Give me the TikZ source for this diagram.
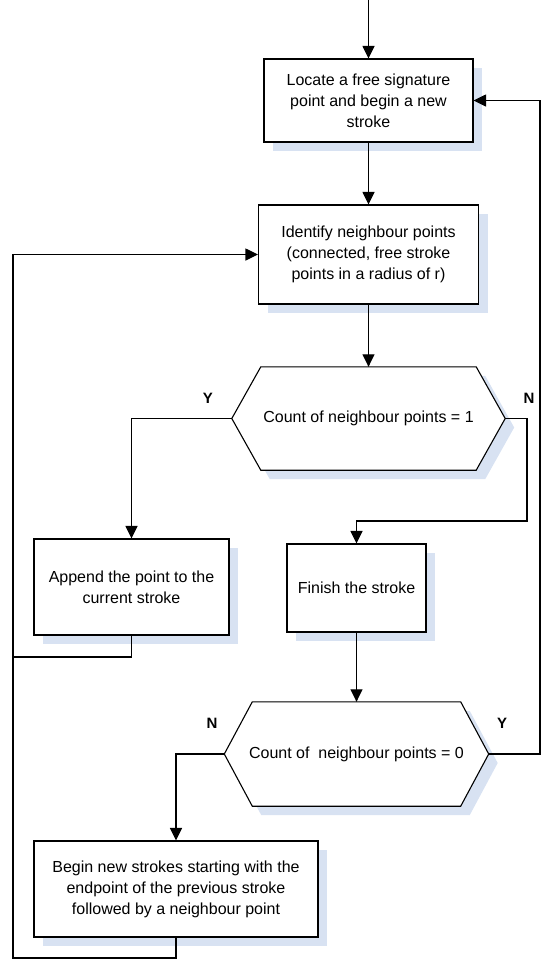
\documentclass[tikz,border=0pt]{standalone}
\usepackage{fontspec}
\setmainfont{Liberation Sans}
\usepackage{tikz}
\usetikzlibrary{arrows.meta,shadows,backgrounds}
\definecolor{shadowblue}{RGB}{216,226,242}
\tikzstyle{block}=[draw=black,line width=1.1pt,fill=white,align=center,inner sep=0pt,
  drop shadow={shadow xshift=9pt,shadow yshift=-9pt,fill=shadowblue,opacity=1}]
\tikzstyle{decision}=[align=center,inner sep=0pt]
\tikzstyle{yn}=[font=\fontsize{15}{18}\selectfont\bfseries]
\tikzstyle{conn}=[draw=black,line width=1.1pt]
\tikzstyle{flow}=[conn,-{Triangle[length=12.5pt,width=12pt]}]

\begin{document}
\begin{tikzpicture}[x=1pt,y=-1pt,every node/.style={font=\fontsize{16}{21}\selectfont}]
  \useasboundingbox (0,0) rectangle (541,959);
  % main column
  \node[block,minimum width=209pt,minimum height=83pt] (locate) at (368.5,100.5)
    {Locate a free signature\\point and begin a new\\stroke};
  \node[block,minimum width=220pt,minimum height=99pt] (identify) at (368.5,254.5)
    {Identify neighbour points\\(connected, free stroke\\points in a radius of r)};
  \node[decision,minimum width=273pt,minimum height=103pt] (count1) at (368.5,418.5)
    {Count of neighbour points = 1};
  \node[block,minimum width=195pt,minimum height=96pt] (append) at (131.5,587)
    {Append the point to the\\current stroke};
  \node[block,minimum width=139pt,minimum height=88pt] (finish) at (356.5,588)
    {Finish the stroke};
  \node[decision,minimum width=264pt,minimum height=104pt] (count0) at (356.5,754)
    {Count of\ \ neighbour points = 0};
  \node[block,minimum width=284pt,minimum height=96pt] (begin) at (176,889)
    {Begin new strokes starting with the\\endpoint of the previous stroke\\followed by a neighbour point};
  % hexagons behind the decision texts
  \begin{scope}[on background layer]
    \foreach \d/\c in {count1/29pt,count0/28pt}{
      \path[fill=shadowblue,transform canvas={xshift=9pt,yshift=-9pt}]
        ([xshift=\c]\d.north west) -- ([xshift=-\c]\d.north east) -- (\d.east)
        -- ([xshift=-\c]\d.south east) -- ([xshift=\c]\d.south west) -- (\d.west) -- cycle;
      \draw[conn,fill=white]
        ([xshift=\c]\d.north west) -- ([xshift=-\c]\d.north east) -- (\d.east)
        -- ([xshift=-\c]\d.south east) -- ([xshift=\c]\d.south west) -- (\d.west) -- cycle;
    }
  \end{scope}
  % branch labels
  \node[yn] (y1) at (208,398) {Y};
  \node[yn] (n1) at (529,398) {N};
  \node[yn] (n0) at (212,723) {N};
  \node[yn] (y0) at (502,723) {Y};
  % connectors
  \coordinate (entry) at (368.5,0);
  \coordinate (nturn) at (527,521);
  \coordinate (aloop) at (13,657);
  \coordinate (yturn) at (540,754);
  \coordinate (bloop) at (13,958);
  \draw[flow] (entry) -- (locate.north);
  \draw[flow] (locate) -- (identify);
  \draw[flow] (identify) -- (count1);
  \draw[flow] (count1.west) -| (append.north);
  \draw[flow] (count1.east) -| (nturn) -| (finish.north);
  \draw[conn] (append.south) |- (aloop);
  \draw[flow] (finish) -- (count0);
  \draw[flow] (count0.west) -| (begin.north);
  \draw[flow] (count0.east) -- (yturn) |- (locate.east);
  \draw[flow] (begin.south) |- (bloop) |- (identify.west);
\end{tikzpicture}
\end{document}
